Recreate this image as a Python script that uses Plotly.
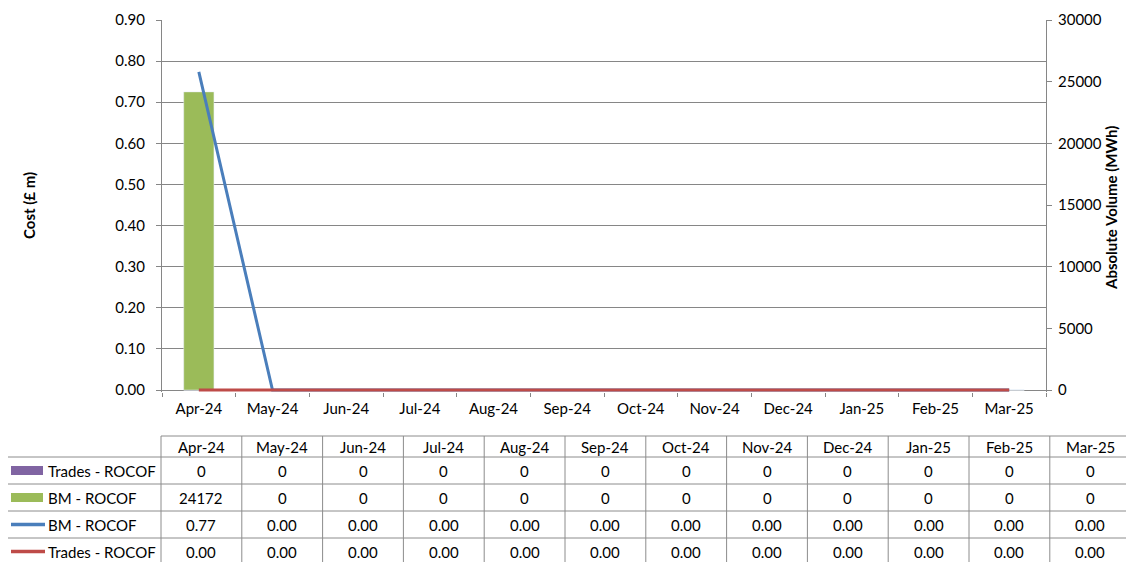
import plotly.graph_objects as go

months = ["Apr-24", "May-24", "Jun-24", "Jul-24", "Aug-24", "Sep-24",
          "Oct-24", "Nov-24", "Dec-24", "Jan-25", "Feb-25", "Mar-25"]
trades_rocof_volume = [0, 0, 0, 0, 0, 0, 0, 0, 0, 0, 0, 0]
bm_rocof_volume = [24172, 0, 0, 0, 0, 0, 0, 0, 0, 0, 0, 0]
bm_rocof_cost = [0.774, 0.0, 0.0, 0.0, 0.0, 0.0, 0.0, 0.0, 0.0, 0.0, 0.0, 0.0]
trades_rocof_cost = [0.0, 0.0, 0.0, 0.0, 0.0, 0.0, 0.0, 0.0, 0.0, 0.0, 0.0, 0.0]
cost_ticks = [0.0, 0.1, 0.2, 0.3, 0.4, 0.5, 0.6, 0.7, 0.8, 0.9]
volume_ticks = [0, 5000, 10000, 15000, 20000, 25000, 30000]

PURPLE = "#8064A2"
GREEN = "#9BBB59"
BLUE = "#4A7EBB"
RED = "#BE4B48"
GRID = "#868686"
FONT = "Lato"
FS = 15

W, H = 1134, 562
OFF = 8  # page body margin
def px(x):
    return (x - OFF) / W
def py(y):
    return 1 - (y - OFF) / H

# plot area: top 20, zero line at 390, small extra strip below zero so the line at 0 is not clipped
TOP, ZERO, EXTRA = 20, 390, 2.0
cost_max, vol_max = 0.9, 30000
cost_min = -EXTRA * cost_max / (ZERO - TOP)
vol_min = -EXTRA * vol_max / (ZERO - TOP)

fig = go.Figure()
fig.add_trace(go.Bar(x=months, y=trades_rocof_volume, name="Trades - ROCOF",
                     marker_color=PURPLE, width=0.41, xaxis="x", yaxis="y", showlegend=False))
fig.add_trace(go.Bar(x=months, y=bm_rocof_volume, name="BM - ROCOF",
                     marker_color=GREEN, width=0.41, xaxis="x", yaxis="y", showlegend=False))
fig.add_trace(go.Scatter(x=months, y=bm_rocof_cost, name="BM - ROCOF", mode="lines",
                         line=dict(color=BLUE, width=3), xaxis="x", yaxis="y2", showlegend=False))
fig.add_trace(go.Scatter(x=months, y=trades_rocof_cost, name="Trades - ROCOF", mode="lines",
                         line=dict(color=RED, width=3), xaxis="x", yaxis="y2", showlegend=False))

xdom = [px(162), px(1046)]
ydom = [py(ZERO + EXTRA), py(TOP)]

fig.update_layout(
    width=W, height=H,
    margin=dict(l=0, r=0, t=0, b=0, pad=0, autoexpand=False),
    paper_bgcolor="white", plot_bgcolor="white",
    font=dict(family=FONT, size=FS, color="black"),
    barmode="overlay",
    showlegend=False,
    xaxis=dict(domain=xdom, anchor="y", type="category", range=[-0.5, 11.5], automargin=False,
               tickson="boundaries", ticks="outside", ticklen=4, tickcolor=GRID,
               showline=False, showgrid=False, ticklabelstandoff=6,
               tickfont=dict(family=FONT, size=FS)),
    yaxis=dict(domain=ydom, anchor="x", side="right", range=[vol_min, vol_max], tickvals=volume_ticks,
               ticktext=[str(v) for v in volume_ticks], automargin=False,
               ticks="outside", ticklen=5, tickcolor=GRID, ticklabelstandoff=3,
               showline=True, linecolor=GRID, linewidth=1,
               showgrid=False, zeroline=False,
               tickfont=dict(family=FONT, size=FS)),
    yaxis2=dict(overlaying="y", anchor="x", side="left", range=[cost_min, cost_max], tickvals=cost_ticks,
                ticktext=[f"{v:.2f}" for v in cost_ticks], automargin=False,
                ticks="outside", ticklen=5, tickcolor=GRID, ticklabelstandoff=8,
                showline=True, linecolor=GRID, linewidth=1,
                showgrid=True, gridcolor=GRID, gridwidth=1,
                zeroline=True, zerolinecolor=GRID, zerolinewidth=1,
                tickfont=dict(family=FONT, size=FS)),
)

annotations = []
shapes = []

annotations.append(dict(x=px(18), y=py(206), xref="paper", yref="paper",
                        text="<b>Cost (£ m)</b>", textangle=-90, showarrow=False,
                        font=dict(family=FONT, size=FS)))
annotations.append(dict(x=px(1122), y=py(208), xref="paper", yref="paper",
                        text="<b>Absolute Volume (MWh)</b>", textangle=-90, showarrow=False,
                        font=dict(family=FONT, size=FS)))

col_x0 = 161
col_w = 80.8
label_x0 = 5
x_end = col_x0 + col_w * len(months)
head_top, head_bot = 436, 457
row_h = 27
row_tops = [head_bot + i * row_h for i in range(4)]
table_bottom = head_bot + 4 * row_h + 2

line_style = dict(color="#8C8C8C", width=1)
shapes.append(dict(type="line", xref="paper", yref="paper", x0=px(col_x0), x1=px(x_end),
                   y0=py(head_top), y1=py(head_top), line=line_style))
for yt in row_tops:
    shapes.append(dict(type="line", xref="paper", yref="paper", x0=px(label_x0), x1=px(x_end),
                       y0=py(yt), y1=py(yt), line=line_style))
for i in range(len(months) + 1):
    xx = col_x0 + i * col_w
    shapes.append(dict(type="line", xref="paper", yref="paper", x0=px(xx), x1=px(xx),
                       y0=py(head_top), y1=py(table_bottom), line=line_style))
shapes.append(dict(type="line", xref="paper", yref="paper", x0=px(label_x0), x1=px(label_x0),
                   y0=py(head_bot), y1=py(table_bottom), line=line_style))

for i, m in enumerate(months):
    annotations.append(dict(x=px(col_x0 + (i + 0.5) * col_w), y=py((head_top + head_bot) / 2),
                            xref="paper", yref="paper", text=m, showarrow=False,
                            xanchor="center", yanchor="middle", font=dict(family=FONT, size=FS)))

rows = [
    ("Trades - ROCOF", "rect", PURPLE, [str(v) for v in trades_rocof_volume]),
    ("BM - ROCOF", "rect", GREEN, [str(v) for v in bm_rocof_volume]),
    ("BM - ROCOF", "line", BLUE, [f"{v:.2f}" for v in bm_rocof_cost]),
    ("Trades - ROCOF", "line", RED, [f"{v:.2f}" for v in trades_rocof_cost]),
]
for r, (label, kind, color, vals) in enumerate(rows):
    yc = row_tops[r] + row_h / 2
    if kind == "rect":
        shapes.append(dict(type="rect", xref="paper", yref="paper", x0=px(11), x1=px(43),
                           y0=py(yc - 4.5), y1=py(yc + 4.5), fillcolor=color,
                           line=dict(width=0)))
    else:
        shapes.append(dict(type="line", xref="paper", yref="paper", x0=px(11), x1=px(45),
                           y0=py(yc), y1=py(yc), line=dict(color=color, width=3.5)))
    annotations.append(dict(x=px(46), y=py(yc), xref="paper", yref="paper", text=label,
                            showarrow=False, xanchor="left", yanchor="middle",
                            font=dict(family=FONT, size=FS)))
    for i, v in enumerate(vals):
        annotations.append(dict(x=px(col_x0 + (i + 0.5) * col_w), y=py(yc),
                                xref="paper", yref="paper", text=v, showarrow=False,
                                xanchor="center", yanchor="middle",
                                font=dict(family=FONT, size=FS)))

fig.update_layout(annotations=annotations, shapes=shapes)
fig.write_html("out.html")
